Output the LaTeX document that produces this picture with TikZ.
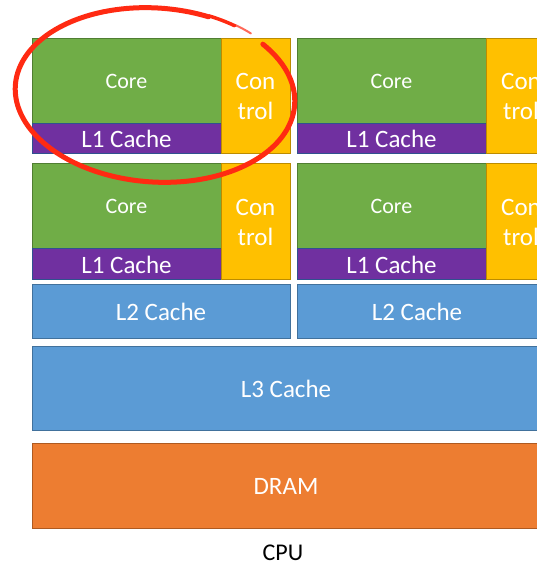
\documentclass[tikz,border=0pt]{standalone}
\usepackage{fontspec}
\setmainfont{Carlito}
\definecolor{cgreen}{HTML}{70AD47}
\definecolor{cgreenb}{HTML}{507E32}
\definecolor{cpurple}{HTML}{7030A0}
\definecolor{cpurpleb}{HTML}{2F528F}
\definecolor{cyellow}{HTML}{FFC000}
\definecolor{cyellowb}{HTML}{BC8C00}
\definecolor{cblue}{HTML}{5B9BD5}
\definecolor{cblueb}{HTML}{41719C}
\definecolor{corange}{HTML}{ED7D31}
\definecolor{corangeb}{HTML}{AE5A21}
\definecolor{cred}{HTML}{FF2A12}
\tikzset{
  blk/.style={rectangle, inner sep=0pt, outer sep=0pt, line width=1pt, anchor=north west,
    text=white, font=\fontsize{25}{30}\selectfont, align=center},
  corebox/.style={blk, fill=cgreen, draw=cgreenb, font=\fontsize{22}{26}\selectfont},
  l1box/.style={blk, fill=cpurple, draw=cpurpleb},
  ctrlbox/.style={blk, fill=cyellow, draw=cyellowb},
  cachebox/.style={blk, fill=cblue, draw=cblueb},
  rambox/.style={blk, fill=corange, draw=corangeb},
  ring/.style={draw=cred, line cap=round},
}
\begin{document}
\begin{tikzpicture}[x=1pt,y=1pt]
\useasboundingbox (0,0) rectangle (537,565);
\clip (0,0) rectangle (537,565);
% row 1
\node[corebox, minimum width=189pt, minimum height=85pt] (c1) at (32,526) {Core};
\node[l1box, minimum width=189pt, minimum height=30pt] (l11) at (32,441) {L1 Cache};
\node[ctrlbox, minimum width=69pt, minimum height=115pt] (t1) at (221,526) {Con\\trol};
\node[corebox, minimum width=189pt, minimum height=85pt] (c2) at (297,526) {Core};
\node[l1box, minimum width=189pt, minimum height=30pt] (l12) at (297,441) {L1 Cache};
\node[ctrlbox, minimum width=70pt, minimum height=115pt] (t2) at (486,526) {Con\\trol};
% row 2
\node[corebox, minimum width=189pt, minimum height=85pt] (c3) at (32,401) {Core};
\node[l1box, minimum width=189pt, minimum height=31pt] (l13) at (32,316) {L1 Cache};
\node[ctrlbox, minimum width=69pt, minimum height=116pt] (t3) at (221,401) {Con\\trol};
\node[corebox, minimum width=189pt, minimum height=85pt] (c4) at (297,401) {Core};
\node[l1box, minimum width=189pt, minimum height=31pt] (l14) at (297,316) {L1 Cache};
\node[ctrlbox, minimum width=70pt, minimum height=116pt] (t4) at (486,401) {Con\\trol};
% L2
\node[cachebox, minimum width=258pt, minimum height=54pt] (l21) at (32,280) {L2 Cache};
\node[cachebox, minimum width=240pt, minimum height=54pt] (l22) at (297,280) {L2 Cache};
% L3
\node[cachebox, minimum width=508pt, minimum height=84pt] (l3) at (32,218) {L3 Cache};
% DRAM
\node[rambox, minimum width=508pt, minimum height=85pt] (ram) at (32,121) {DRAM};
% CPU label
\node[font=\fontsize{24}{28}\selectfont, text=black, inner sep=0pt] (cpu) at (283,12) {CPU};
% red hand-drawn ring
\begin{scope}[rotate around={-4:(155,470)}]
  \draw[ring, line width=5pt] ([shift={(42:140 and 87)}]155,470) arc[start angle=42, end angle=-290, x radius=140, y radius=87];
  \draw[ring, line width=3.5pt] ([shift={(70:141 and 88)}]155,470) arc[start angle=70, end angle=58, x radius=141, y radius=88];
  \draw[ring, line width=2pt, opacity=0.7] ([shift={(58:142 and 89)}]155,470) arc[start angle=58, end angle=50, x radius=143, y radius=90];
\end{scope}
\end{tikzpicture}
\end{document}
